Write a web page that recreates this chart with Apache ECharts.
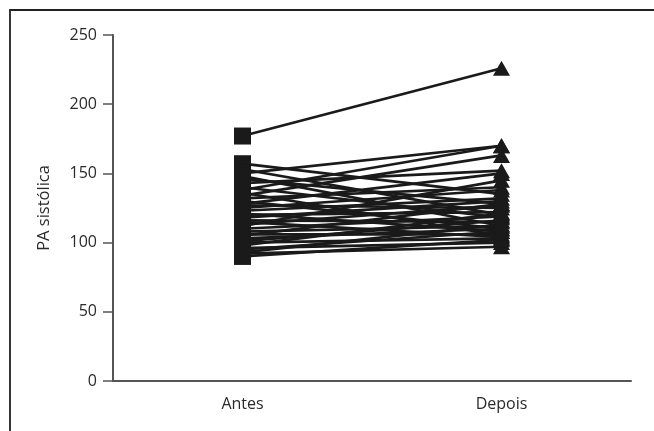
<!DOCTYPE html>
<html>
<head>
<meta charset="utf-8">
<script src="https://cdn.jsdelivr.net/npm/echarts@6/dist/echarts.min.js"></script>
<style>
html,body{margin:0;padding:0;background:#fff;}
#c{width:654px;height:431px;}
</style>
</head>
<body>
<div id="c"></div>
<script>
const categories = ['Antes', 'Depois'];
const antes  = [177,157,153,150,148,146,143,140,138,136,134,132,130,128,127,125,123,121,120,118,116,115,113,112,110,108,106,105,103,101,100,98,96,95,93,92,90];
const depois = [226,135,120,170,112,128,152,118,170,105,163,140,110,150,125,138,132,108,122,130,115,104,127,145,119,112,106,128,110,116,103,121,100,108,113,97,102];
const yTicks = [0, 50, 100, 150, 200, 250];
const yName = 'PA sistólica';

const chart = echarts.init(document.getElementById('c'), null, {renderer: 'canvas'});
const ink = '#1a1a1a';
const series = antes.map((a, i) => ({
  type: 'line',
  silent: true,
  animation: false,
  lineStyle: {color: ink, width: 2.7},
  itemStyle: {color: ink},
  data: [
    {value: a, symbol: 'rect', symbolSize: [17, 17]},
    {value: depois[i], symbol: 'triangle', symbolSize: [17, 15]}
  ]
}));

chart.setOption({
  animation: false,
  backgroundColor: '#fff',
  textStyle: {fontFamily: '"Open Sans", "DejaVu Sans", sans-serif'},
  graphic: [{
    type: 'rect',
    shape: {x: 10, y: 10, width: 800, height: 600},
    style: {fill: 'none', stroke: '#222', lineWidth: 1.8},
    silent: true
  }],
  grid: {left: 113, right: 23, top: 35, bottom: 50, containLabel: false},
  xAxis: {
    type: 'category',
    data: categories,
    boundaryGap: true,
    axisLine: {lineStyle: {color: '#555', width: 2}},
    axisTick: {alignWithLabel: true, length: 9, lineStyle: {color: '#555', width: 1.5}},
    axisLabel: {color: '#2a2a2a', fontSize: 16, margin: 15},
    splitLine: {show: false}
  },
  yAxis: {
    type: 'value',
    min: yTicks[0],
    max: yTicks[yTicks.length - 1],
    interval: yTicks[1] - yTicks[0],
    name: yName,
    nameLocation: 'middle',
    nameGap: 60,
    nameRotate: 90,
    nameTextStyle: {color: '#2a2a2a', fontSize: 16.5},
    axisLine: {show: true, lineStyle: {color: '#555', width: 2}},
    axisTick: {show: true, length: 10, lineStyle: {color: '#555', width: 1.5}},
    axisLabel: {color: '#2a2a2a', fontSize: 16, margin: 16},
    splitLine: {show: false}
  },
  series: series
});
</script>
</body>
</html>
